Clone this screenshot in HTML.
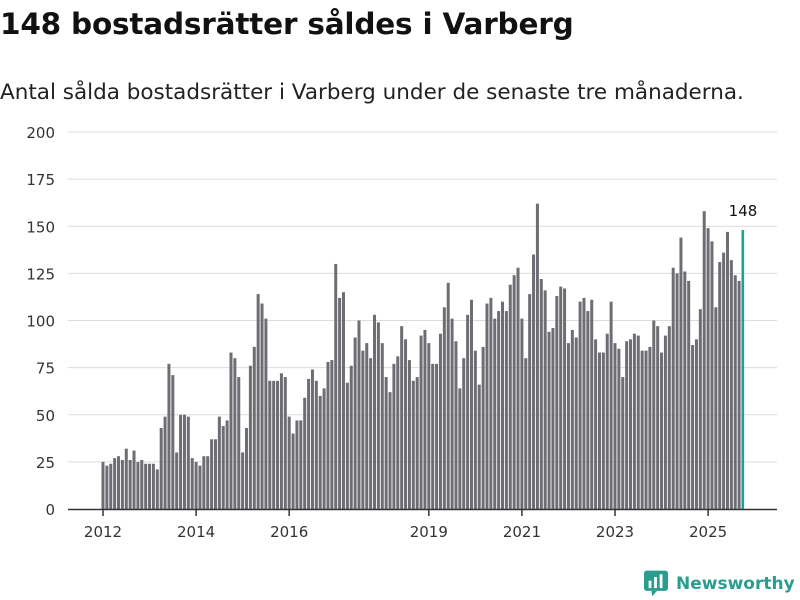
<!DOCTYPE html>
<html><head><meta charset="utf-8"><style>
body{margin:0;width:800px;height:600px;background:#fff;font-family:"Liberation Sans","DejaVu Sans",sans-serif;overflow:hidden;position:relative}
h1{position:absolute;left:0;top:7px;margin:0;font-size:29.5px;font-weight:bold;color:#111;font-family:"DejaVu Sans","Liberation Sans",sans-serif;letter-spacing:-0.2px}
.sub{position:absolute;left:0;top:80px;font-size:21.5px;color:#222;font-family:"DejaVu Sans","Liberation Sans",sans-serif}
.logo{position:absolute;left:644px;top:570px;display:flex;align-items:center;font-size:17px;font-weight:bold;color:#2a9d8f;font-family:"DejaVu Sans","Liberation Sans",sans-serif;white-space:nowrap}
</style></head><body>
<h1>148 bostadsrätter såldes i Varberg</h1>
<div class="sub">Antal sålda bostadsrätter i Varberg under de senaste tre månaderna.</div>
<svg id="chart" width="800" height="600" style="position:absolute;left:0;top:0"></svg>
<div class="logo">
<svg width="24" height="27" viewBox="0 0 26 28"><rect x="0" y="0" width="26" height="22" rx="3" fill="#2a9d8f"/><polygon points="8,22 14,22 9,28" fill="#2a9d8f"/><rect x="5" y="11" width="3" height="8" fill="#fff"/><rect x="11" y="7" width="3" height="12" fill="#fff"/><rect x="17" y="4" width="3" height="15" fill="#fff"/></svg>
<span style="margin-left:8px">Newsworthy</span></div>
<script>
const values=[25,23,24,27,28,26,32,26,31,25,26,24,
24,24,21,43,49,77,71,30,50,50,49,27,
25,23,28,28,37,37,49,44,47,83,80,70,
30,43,76,86,114,109,101,68,68,68,72,70,
49,40,47,47,59,69,74,68,60,64,78,79,
130,112,115,67,76,91,100,84,88,80,103,99,
88,70,62,77,81,97,90,79,68,70,92,95,
88,77,77,93,107,120,101,89,64,80,103,111,
84,66,86,109,112,101,105,110,105,119,124,128,
101,80,114,135,162,122,116,94,96,113,118,117,
88,95,91,110,112,105,111,90,83,83,93,110,
88,85,70,89,90,93,92,84,84,86,100,97,
83,92,97,128,125,144,126,121,87,90,106,158,
149,142,107,131,136,147,132,124,121,148];
const yTicks=[0,25,50,75,100,125,150,175,200];
const xTickYears=[2012,2014,2016,2019,2021,2023,2025];
const startYear=2012;
const svg=document.getElementById('chart');const NS='http://www.w3.org/2000/svg';
const y=v=>509-v*(377/200);
const step=(743-103)/(values.length-1);
const x=i=>103+i*step;
function mk(t,a,p){const e=document.createElementNS(NS,t);for(const k in a)e.setAttribute(k,a[k]);(p||svg).appendChild(e);return e;}
yTicks.forEach(t=>{
 if(t>0){const g=mk('line',{x1:68,x2:777,y1:y(t),y2:y(t),stroke:'#dcdcdc','stroke-width':1});
 
 }
 const l=mk('text',{x:55,y:y(t)+6,'text-anchor':'end','font-size':15,fill:'#333','font-family':'DejaVu Sans, Liberation Sans, sans-serif'});l.textContent=t;
 
 
});
values.forEach((v,i)=>{
 const last=i===values.length-1;
 const r=mk('rect',{x:x(i)-1.5,y:y(v),width:last?2.6:3,height:509-y(v),fill:last?'#17a398':'#6e6d73'});
 
 
});
const lv=values[values.length-1];
const lt=mk('text',{x:x(values.length-1),y:y(lv)-14,'text-anchor':'middle','font-size':15,fill:'#111','font-family':'DejaVu Sans, Liberation Sans, sans-serif'});lt.textContent=lv;


const ax=mk('line',{x1:68,x2:777,y1:509.5,y2:509.5,stroke:'#333','stroke-width':1.5});


xTickYears.forEach(yr=>{
 const xx=x((yr-startYear)*12);
 const tk=mk('line',{x1:xx,x2:xx,y1:509,y2:516,stroke:'#333','stroke-width':1.5});
 
 
 const t=mk('text',{x:xx,y:537,'text-anchor':'middle','font-size':15,fill:'#333','font-family':'DejaVu Sans, Liberation Sans, sans-serif'});t.textContent=yr;
 
 
});
</script>
</body></html>
